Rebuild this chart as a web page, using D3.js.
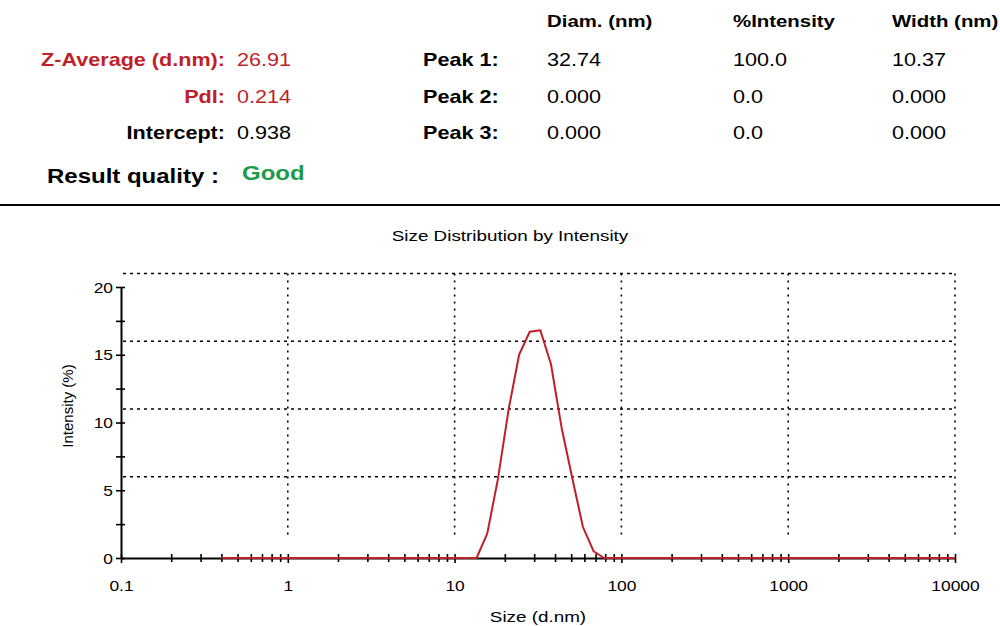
<!DOCTYPE html>
<html lang="en">
<meta charset="UTF-8">
<style>
    body{ margin:0; background:#fff; }
    text{ font-family:"Liberation Sans", Arial, sans-serif; }
    .grid{ fill:none; stroke:#000; stroke-width:1.6; }
</style>
<body>
<div id="chart"></div>
<script src="https://cdn.jsdelivr.net/npm/d3@7"></script>
<script>
    // summary table
    var summaryLabels = ["Z-Average (d.nm):", "PdI:", "Intercept:"];
    var summaryValues = ["26.91", "0.214", "0.938"];
    var peakLabels = ["Peak 1:", "Peak 2:", "Peak 3:"];
    var peakColumns = ["Diam. (nm)", "%Intensity", "Width (nm)"];
    var peakDiam = ["32.74", "0.000", "0.000"];
    var peakIntensity = ["100.0", "0.0", "0.0"];
    var peakWidth = ["10.37", "0.000", "0.000"];

    // size distribution (d.nm vs intensity %)
    var sizes = [0.4, 13.54, 15.69, 18.17, 21.04, 24.36, 28.21, 32.67, 37.84, 43.82, 50.75, 58.77, 68.06, 78.82, 10000];
    var intensity = [0, 0, 1.8, 5.8, 10.9, 15.0, 16.7, 16.8, 14.3, 9.6, 5.9, 2.3, 0.5, 0, 0];

    var xTicks = [0.1, 1, 10, 100, 1000, 10000];
    var xTickLabels = ["0.1", "1", "10", "100", "1000", "10000"];
    var yTicks = [0, 5, 10, 15, 20];
    var yMinor = [2.5, 7.5, 12.5, 17.5];
    var gridY = [6, 11, 16, 21];
    var gridX = [1, 10, 100, 1000, 10000];

    var width = 1000, height = 626;
    var red = "#c01f2a", green = "#1c9b4b";
    var sx = 1.2;   // the report text is drawn wide

    var svg = d3.select("#chart").append("svg")
        .attr("width", width)
        .attr("height", height);

    function label(x, y, txt, size, weight, color, anchor, stretch) {
        return svg.append("text")
            .attr("transform", "translate(" + x + "," + y + ") scale(" + (stretch || sx) + ",1)")
            .attr("font-size", size)
            .attr("font-weight", weight)
            .attr("fill", color)
            .attr("text-anchor", anchor)
            .text(txt);
    }

    // ---- header ----
    var rowY = [66, 103, 139];
    summaryLabels.forEach(function(d, i) {
        var c = i < 2 ? red : "#000";
        label(225, rowY[i], d, 18, "bold", c, "end");
        label(237, rowY[i], summaryValues[i], 18, "normal", c, "start");
        label(423, rowY[i], peakLabels[i], 18, "bold", "#000", "start");
        label(547, rowY[i], peakDiam[i], 18, "normal", "#000", "start");
        label(733, rowY[i], peakIntensity[i], 18, "normal", "#000", "start");
        label(892, rowY[i], peakWidth[i], 18, "normal", "#000", "start");
    });
    var colX = [547, 733, 892];
    peakColumns.forEach(function(d, i) {
        label(colX[i], 27, d, 17, "bold", "#000", "start");
    });
    label(47, 183, "Result quality :", 20, "bold", "#000", "start");
    label(242, 180, "Good", 20, "bold", green, "start");

    svg.append("line")
        .attr("x1", 0).attr("x2", width)
        .attr("y1", 205).attr("y2", 205)
        .attr("stroke", "#000").attr("stroke-width", 2);

    // ---- chart ----
    var x = d3.scaleLog().domain([0.1, 10000]).range([121, 955]);
    var y = d3.scaleLinear().domain([0, 20]).range([558, 287]);

    label(510, 241, "Size Distribution by Intensity", 14.5, "normal", "#000", "middle", 1.3);

    // grid
    svg.append("g").selectAll("line")
        .data(gridY).enter().append("line")
        .attr("class", "grid")
        .attr("x1", x(0.1) + 2).attr("x2", x(10000))
        .attr("y1", function(d){ return y(d); })
        .attr("y2", function(d){ return y(d); })
        .attr("stroke-dasharray", "3,4");

    svg.append("g").selectAll("line")
        .data(gridX).enter().append("line")
        .attr("class", "grid")
        .attr("x1", function(d){ return x(d); })
        .attr("x2", function(d){ return x(d); })
        .attr("y1", y(21)).attr("y2", y(1.5))
        .attr("stroke-dasharray", "2,5");

    // y axis
    var yAxis = svg.append("g")
        .attr("transform", "translate(" + x(0.1) + ",0)")
        .call(d3.axisLeft(y).tickValues(yTicks).tickSize(5).tickSizeOuter(0));
    svg.append("g")
        .attr("transform", "translate(" + x(0.1) + ",0)")
        .call(d3.axisLeft(y).tickValues(yMinor).tickSize(5).tickFormat(""))
        .select(".domain").remove();

    // x axis, minor ticks at 2..9 of each decade
    var xMinor = [];
    [0.1, 1, 10, 100, 1000].forEach(function(dec) {
        d3.range(2, 10).forEach(function(m){ xMinor.push(dec * m); });
    });
    var xAxis = svg.append("g")
        .attr("transform", "translate(0," + y(0) + ")")
        .call(d3.axisBottom(x).tickValues(xTicks).tickSize(5).tickSizeOuter(0)
            .tickFormat(function(d, i){ return xTickLabels[i]; }));
    svg.append("g")
        .attr("transform", "translate(0," + y(0) + ")")
        .call(d3.axisBottom(x).tickValues(xMinor).tickSize(4).tickFormat(""))
        .select(".domain").remove();

    svg.selectAll(".domain").attr("stroke-width", 2);
    svg.selectAll(".tick line").attr("stroke-width", 1.6)
        .each(function() {
            var l = d3.select(this);
            if (l.attr("x2") != null && +l.attr("x2") !== 0) l.attr("x1", 4);
            if (l.attr("y2") != null && +l.attr("y2") !== 0) l.attr("y1", -4);
        });

    yAxis.selectAll("text")
        .attr("font-size", 14.5).attr("font-family", null)
        .attr("x", null).attr("dy", "0.35em")
        .attr("transform", "translate(-8,0) scale(1.2,1)");
    xAxis.selectAll("text")
        .attr("font-size", 14.5).attr("font-family", null)
        .attr("y", null).attr("dy", null)
        .attr("transform", "translate(0,33) scale(1.2,1)");

    label(538, 622, "Size (d.nm)", 14.5, "normal", "#000", "middle", 1.3);
    svg.append("text")
        .attr("transform", "translate(73,406) rotate(-90)")
        .attr("font-size", 15)
        .attr("text-anchor", "middle")
        .text("Intensity (%)");

    // distribution curve
    var pts = sizes.map(function(s, i){ return [s, intensity[i]]; });
    svg.append("path")
        .datum(pts)
        .attr("fill", "none")
        .attr("stroke", red)
        .attr("stroke-width", 2)
        .attr("stroke-linejoin", "round")
        .attr("d", d3.line()
            .x(function(d){ return x(d[0]); })
            .y(function(d){ return y(d[1]); }));
</script>
</body>
</html>
